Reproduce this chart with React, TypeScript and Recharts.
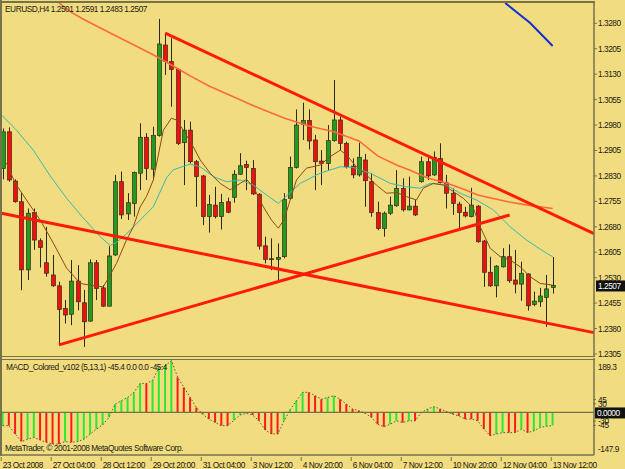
import React from 'react';
import { ComposedChart, Bar, Line, XAxis, YAxis, ReferenceLine, Cell } from 'recharts';

// ---- candles (H4 EURUSD) ----
const opens = [1.2852,1.2960,1.2815,1.2754,1.2553,1.2722,1.2639,1.2574,1.2538,1.2506,1.2439,1.2422,1.2520,1.2456,1.2402,1.2574,1.2500,1.2446,1.2597,1.2813,1.2718,1.2749,1.2838,1.2944,1.2850,1.2949,1.3216,1.3167,1.3144,1.2928,1.2965,1.2872,1.2830,1.2710,1.2744,1.2710,1.2754,1.2767,1.2835,1.2864,1.2852,1.2776,1.2624,1.2586,1.2584,1.2592,1.2764,1.2855,1.2982,1.2993,1.2936,1.2874,1.2867,1.2934,1.2995,1.2926,1.2859,1.2833,1.2877,1.2813,1.2722,1.2675,1.2720,1.2742,1.2793,1.2730,1.2741,1.2813,1.2872,1.2833,1.2881,1.2810,1.2779,1.2747,1.2723,1.2710,1.2741,1.2638,1.2546,1.2506,1.2562,1.2592,1.2523,1.2511,1.2541,1.2451,1.2459,1.2472,1.2501];
const highs = [1.2970,1.2973,1.2820,1.2779,1.2734,1.2734,1.2646,1.2680,1.2597,1.2518,1.2464,1.2582,1.2567,1.2494,1.2584,1.2582,1.2508,1.2623,1.2833,1.2843,1.2779,1.2843,1.2985,1.2956,1.2975,1.3293,1.3252,1.3236,1.3147,1.2995,1.2990,1.2877,1.2833,1.2774,1.2798,1.2777,1.2766,1.2847,1.2897,1.2875,1.2877,1.2779,1.2651,1.2646,1.2631,1.2779,1.2887,1.3026,1.3046,1.3026,1.2951,1.2906,1.2980,1.3113,1.3005,1.2931,1.2882,1.2928,1.2895,1.2838,1.2754,1.2725,1.2769,1.2847,1.2823,1.2828,1.2759,1.2887,1.2892,1.2902,1.2926,1.2833,1.2793,1.2754,1.2739,1.2795,1.2744,1.2641,1.2592,1.2567,1.2617,1.2628,1.2612,1.2577,1.2543,1.2489,1.2500,1.2538,1.2591];
const lows = [1.2820,1.2813,1.2751,1.2493,1.2523,1.2612,1.2560,1.2533,1.2503,1.2331,1.2395,1.2390,1.2434,1.2326,1.2400,1.2464,1.2444,1.2446,1.2594,1.2703,1.2700,1.2710,1.2788,1.2818,1.2818,1.2946,1.3128,1.3034,1.2921,1.2803,1.2867,1.2739,1.2685,1.2663,1.2705,1.2672,1.2720,1.2751,1.2833,1.2788,1.2774,1.2613,1.2572,1.2552,1.2523,1.2587,1.2759,1.2852,1.2936,1.2908,1.2788,1.2803,1.2847,1.2931,1.2906,1.2852,1.2823,1.2828,1.2739,1.2710,1.2670,1.2651,1.2715,1.2739,1.2725,1.2728,1.2712,1.2810,1.2818,1.2830,1.2808,1.2734,1.2715,1.2675,1.2708,1.2708,1.2633,1.2503,1.2503,1.2472,1.2560,1.2515,1.2484,1.2462,1.2433,1.2446,1.2444,1.2385,1.2483];
const closes = [1.2960,1.2818,1.2754,1.2553,1.2720,1.2641,1.2619,1.2543,1.2506,1.2436,1.2420,1.2520,1.2459,1.2400,1.2574,1.2498,1.2446,1.2594,1.2813,1.2715,1.2751,1.2840,1.2944,1.2852,1.2949,1.3219,1.3167,1.3144,1.2926,1.2965,1.2872,1.2828,1.2710,1.2746,1.2710,1.2752,1.2723,1.2835,1.2860,1.2855,1.2777,1.2623,1.2584,1.2584,1.2590,1.2761,1.2855,1.2980,1.2993,1.2933,1.2872,1.2867,1.2934,1.2995,1.2926,1.2857,1.2833,1.2885,1.2816,1.2722,1.2675,1.2720,1.2744,1.2793,1.2730,1.2741,1.2715,1.2872,1.2830,1.2885,1.2810,1.2779,1.2749,1.2722,1.2712,1.2744,1.2636,1.2546,1.2506,1.2564,1.2592,1.2521,1.2511,1.2543,1.2447,1.2461,1.2476,1.2497,1.2507];

// ---- moving averages (bar position, price) ----
const fastMaBars = [0.6,2,3.8,6,8.1,10.2,12.4,14,16.1,17.2,18.2,19.8,20.9,22,23,24.1,25.7,27,27.8,28.9,30.5,31.6,33.2,34.8,36.4,38,39,40.1,41.7,43,44.1,45,46,47,48.6,50.8,52.4,54,55,56.6,58.2,59.8,61.4,63,64.6,66.2,67.3,68.9,70.5,72.1,73.7,75.3,76.4,78,79.6,81.2,82.8,84.4,86,88];
const fastMaVals = [1.2868,1.2809,1.2759,1.2700,1.2632,1.2559,1.2513,1.2508,1.2503,1.2538,1.2572,1.2641,1.2680,1.2739,1.2769,1.2818,1.2965,1.3000,1.2995,1.2965,1.2916,1.2877,1.2838,1.2808,1.2789,1.2808,1.2820,1.2798,1.2739,1.2700,1.2676,1.2700,1.2759,1.2818,1.2853,1.2862,1.2887,1.2906,1.2892,1.2857,1.2833,1.2803,1.2779,1.2781,1.2769,1.2759,1.2794,1.2808,1.2803,1.2784,1.2764,1.2735,1.2680,1.2617,1.2592,1.2582,1.2562,1.2533,1.2513,1.2508];
const midMaBars = [-0.2,2.2,4.9,7.6,10.2,12.9,15.6,17.2,18.2,19.8,22,24.1,26.2,27.3,30,31.6,33.7,35.8,38,40.1,42.2,44.1,47.6,50.8,54,56.1,58.8,62,64.6,66.8,68.4,71,73.2,75.8,78.5,81.2,83.8,87,88];
const midMaVals = [1.3010,1.2965,1.2906,1.2830,1.2765,1.2706,1.2651,1.2625,1.2634,1.2659,1.2700,1.2739,1.2824,1.2848,1.2865,1.2857,1.2828,1.2813,1.2818,1.2803,1.2774,1.2749,1.2808,1.2838,1.2857,1.2855,1.2838,1.2808,1.2798,1.2794,1.2808,1.2803,1.2779,1.2759,1.2730,1.2680,1.2641,1.2602,1.2592];
const slowMaBars = [9,11,13,15,18,21,24,27,30,33,37,41,45,49,53,57,60,63,65,68,71,74,76,81,84,88];
const slowMaVals = [1.3340,1.3312,1.3291,1.3272,1.3244,1.3216,1.3188,1.3157,1.3125,1.3095,1.3063,1.3030,1.3001,1.2977,1.2960,1.2933,1.2889,1.2862,1.2848,1.2824,1.2809,1.2789,1.2774,1.2753,1.2744,1.2734];
const longMaBars = [80.4,84.4,88];
const longMaVals = [1.3340,1.3281,1.3213];

// ---- trend lines (bar, price) ----
const trendLines = [
  [[26, 1.3251], [94.6, 1.2660]],
  [[9, 1.2332], [81.1, 1.2715]],
  [[-0.2, 1.2720], [94.6, 1.2368]],
];

// ---- MACD histogram ----
const macd = [-46,-46,-75,-101,-93,-87,-96,-104,-110,-110,-101,-104,-101,-93,-75,-58,-43,-17,29,41,52,70,101,101,112,156,162,180,122,87,52,17,-6,-23,-35,-46,-46,-27,-9,-3,-9,-29,-61,-75,-75,-30,10,41,70,70,58,46,52,58,46,29,12,6,-3,-17,-41,-50,-41,-29,-35,-29,-29,0,12,20,12,3,-6,-12,-23,-23,-29,-58,-81,-75,-70,-70,-70,-58,-70,-64,-52,-48,-45.4];

// ---- axis labels ----
const priceTicks = [1.3280,1.3205,1.3130,1.3055,1.2980,1.2905,1.2830,1.2755,1.2680,1.2605,1.2530,1.2455,1.2380,1.2305];
const timeTickBars = [0,8,16,24,32,40,48,56,64,72,80,88];
const timeLabels = ['23 Oct 2008','27 Oct 04:00','28 Oct 12:00','29 Oct 20:00','31 Oct 04:00','3 Nov 12:00','4 Nov 20:00','6 Nov 04:00','7 Nov 12:00','10 Nov 20:00','12 Nov 04:00','13 Nov 12:00'];
const macdTicks = [189.3, 45, 30, -30, -45, -147.9];

const X_DOMAIN = [-0.112, 94.608];
const PRICE_DOMAIN = [1.22991, 1.333985];
const MACD_DOMAIN = [-147.9, 189.3];

const BG = '#F1DC80';
const FRAME = '#76734c';
const FONT = '"Liberation Sans", Arial, sans-serif';
const TXT = { fontFamily: FONT, fontSize: 8.3, letterSpacing: -0.45, fill: '#1b1b14' };

const candleData = opens.map((o, i) => ({ i, open: o, high: highs[i], low: lows[i], close: closes[i], range: [lows[i], highs[i]] }));
const macdData = macd.map((m, i) => ({ i, m, up: i === 0 ? true : m > macd[i - 1] }));
const toPts = (bars, vals) => bars.map((b, k) => ({ i: b, v: vals[k] }));

const Candle = (props) => {
  const { x, y, width, height, payload } = props;
  if (x == null || y == null) return null;
  const { open, close, high, low } = payload;
  const cx = Math.round(x + width / 2) + 0.5;
  const ratio = height / (high - low);
  const yOf = (v) => y + (high - v) * ratio;
  const top = yOf(Math.max(open, close));
  const bot = yOf(Math.min(open, close));
  const up = close >= open;
  return (
    <g>
      <line x1={cx} x2={cx} y1={y} y2={y + height} stroke="#2a2a1c" strokeWidth={1} />
      <rect x={cx - 2} y={top} width={4} height={Math.max(1, bot - top)} fill={up ? '#1f9b1f' : '#ee1010'} stroke="#3a2a14" strokeWidth={0.7} />
    </g>
  );
};

const PriceBox = (props) => {
  const { viewBox } = props;
  if (!viewBox) return null;
  const yy = viewBox.y;
  const xx = viewBox.x + viewBox.width + 2;
  return (
    <g>
      <rect x={xx} y={yy - 5} width={29} height={11} fill="#111" />
      <text x={xx + 2} y={yy + 3.5} style={{ ...TXT, fill: '#fff' }}>1.2507</text>
    </g>
  );
};

const ZeroBox = (props) => {
  const { viewBox } = props;
  if (!viewBox) return null;
  const yy = viewBox.y;
  const xx = viewBox.x + viewBox.width + 1;
  return (
    <g>
      <rect x={xx} y={yy - 5} width={31} height={11} fill="#111" />
      <text x={xx + 2} y={yy + 3.5} style={{ ...TXT, fill: '#fff' }}>0.0000</text>
    </g>
  );
};

const TimeTick = (props) => {
  const { x, y, payload } = props;
  const idx = timeTickBars.indexOf(payload.value);
  return (
    <g>
      <line x1={x - 1.5} x2={x - 1.5} y1={y} y2={y + 4} stroke={FRAME} />
      <text x={x} y={y + 10.5} style={TXT} textAnchor="start">{timeLabels[idx]}</text>
    </g>
  );
};

const MacdTick = (props) => {
  const { x, y, payload } = props;
  const v = payload.value;
  let dy = 3;
  if (v === 189.3) dy = 12;
  if (v === -147.9) dy = -3;
  const label = Math.abs(v) > 100 ? v.toFixed(1) : String(v);
  return (
    <g>
      {Math.abs(v) < 100 && <line x1={x - 3} x2={x} y1={y} y2={y} stroke={FRAME} />}
      <text x={x + 2} y={y + dy} style={TXT} textAnchor="start">{label}</text>
    </g>
  );
};

export default function App() {
  return (
    <div style={{ position: 'absolute', left: 0, top: 0, width: 625, height: 469, background: BG, overflow: 'hidden' }}>
      {/* main price panel */}
      <div style={{ position: 'absolute', left: 0, top: 0 }}>
        <ComposedChart width={625} height={362} data={candleData} margin={{ top: 3, right: 0, left: 2, bottom: 6 }}>
          <XAxis dataKey="i" type="number" domain={X_DOMAIN} allowDataOverflow hide />
          <YAxis orientation="right" width={31} domain={PRICE_DOMAIN} allowDataOverflow ticks={priceTicks}
            tickFormatter={(v) => v.toFixed(4)} tick={TXT} tickSize={3} tickMargin={1}
            axisLine={{ stroke: FRAME, strokeWidth: 1.5 }} tickLine={{ stroke: FRAME }} interval={0} />
          <Bar dataKey="range" barSize={4} shape={<Candle />} isAnimationActive={false} />
          <Line data={toPts(slowMaBars, slowMaVals)} dataKey="v" stroke="#ff6a3a" strokeWidth={1.6} dot={false} isAnimationActive={false} />
          <Line data={toPts(longMaBars, longMaVals)} dataKey="v" stroke="#1030d0" strokeWidth={2} dot={false} isAnimationActive={false} />
          <Line data={toPts(midMaBars, midMaVals)} dataKey="v" stroke="#3bb8b0" strokeWidth={1} dot={false} isAnimationActive={false} />
          <Line data={toPts(fastMaBars, fastMaVals)} dataKey="v" stroke="#8a4a1a" strokeWidth={1} dot={false} isAnimationActive={false} />
          {trendLines.map((seg, k) => (
            <ReferenceLine key={k} segment={[{ x: seg[0][0], y: seg[0][1] }, { x: seg[1][0], y: seg[1][1] }]}
              stroke="#ff1a0a" strokeWidth={3} ifOverflow="visible" />
          ))}
          <ReferenceLine y={closes[closes.length - 1]} stroke="none" label={<PriceBox />} ifOverflow="visible" />
        </ComposedChart>
      </div>

      {/* frame lines */}
      <div style={{ position: 'absolute', left: 0, top: 1, width: 595, height: 1.5, background: FRAME }} />
      <div style={{ position: 'absolute', left: 0, top: 0, width: 2, height: 456, background: FRAME }} />
      <div style={{ position: 'absolute', left: 0, top: 355.5, width: 595, height: 1.5, background: FRAME }} />
      <div style={{ position: 'absolute', left: 0, top: 358.5, width: 595, height: 1.5, background: FRAME }} />

      {/* MACD panel */}
      <div style={{ position: 'absolute', left: 0, top: 358 }}>
        <ComposedChart width={625} height={111} data={macdData} margin={{ top: 0, right: 0, left: 2, bottom: 0 }}>
          <XAxis dataKey="i" type="number" domain={X_DOMAIN} allowDataOverflow ticks={timeTickBars} interval={0}
            height={14} tickSize={0} tickLine={false} tick={<TimeTick />} axisLine={{ stroke: FRAME, strokeWidth: 1.5 }} />
          <YAxis orientation="right" width={31} domain={MACD_DOMAIN} allowDataOverflow ticks={macdTicks} interval={0}
            tick={<MacdTick />} tickLine={false} tickSize={0} axisLine={{ stroke: FRAME, strokeWidth: 1.5 }} />
          <ReferenceLine y={0} stroke={FRAME} strokeWidth={1.2} label={<ZeroBox />} ifOverflow="visible" />
          <Bar dataKey="m" barSize={2} isAnimationActive={false}>
            {macdData.map((d, k) => (
              <Cell key={k} fill={d.up ? '#2ee82e' : '#ff1a1a'} />
            ))}
          </Bar>
          <Line dataKey="m" stroke="#5a5a40" strokeWidth={1} strokeDasharray="1.5 2" dot={false} isAnimationActive={false} />
        </ComposedChart>
      </div>

      {/* texts */}
      <svg width={625} height={469} style={{ position: 'absolute', left: 0, top: 0, pointerEvents: 'none' }}>
        <text x={5} y={12} style={TXT}>EURUSD,H4  1.2501 1.2591 1.2483 1.2507</text>
        <text x={6} y={370} style={TXT}>MACD_Colored_v102 (5,13,1) -45.4 0.0 0.0 -45.4</text>
        <text x={5} y={451} style={TXT}>MetaTrader, © 2001-2008 MetaQuotes Software Corp.</text>
      </svg>
    </div>
  );
}
